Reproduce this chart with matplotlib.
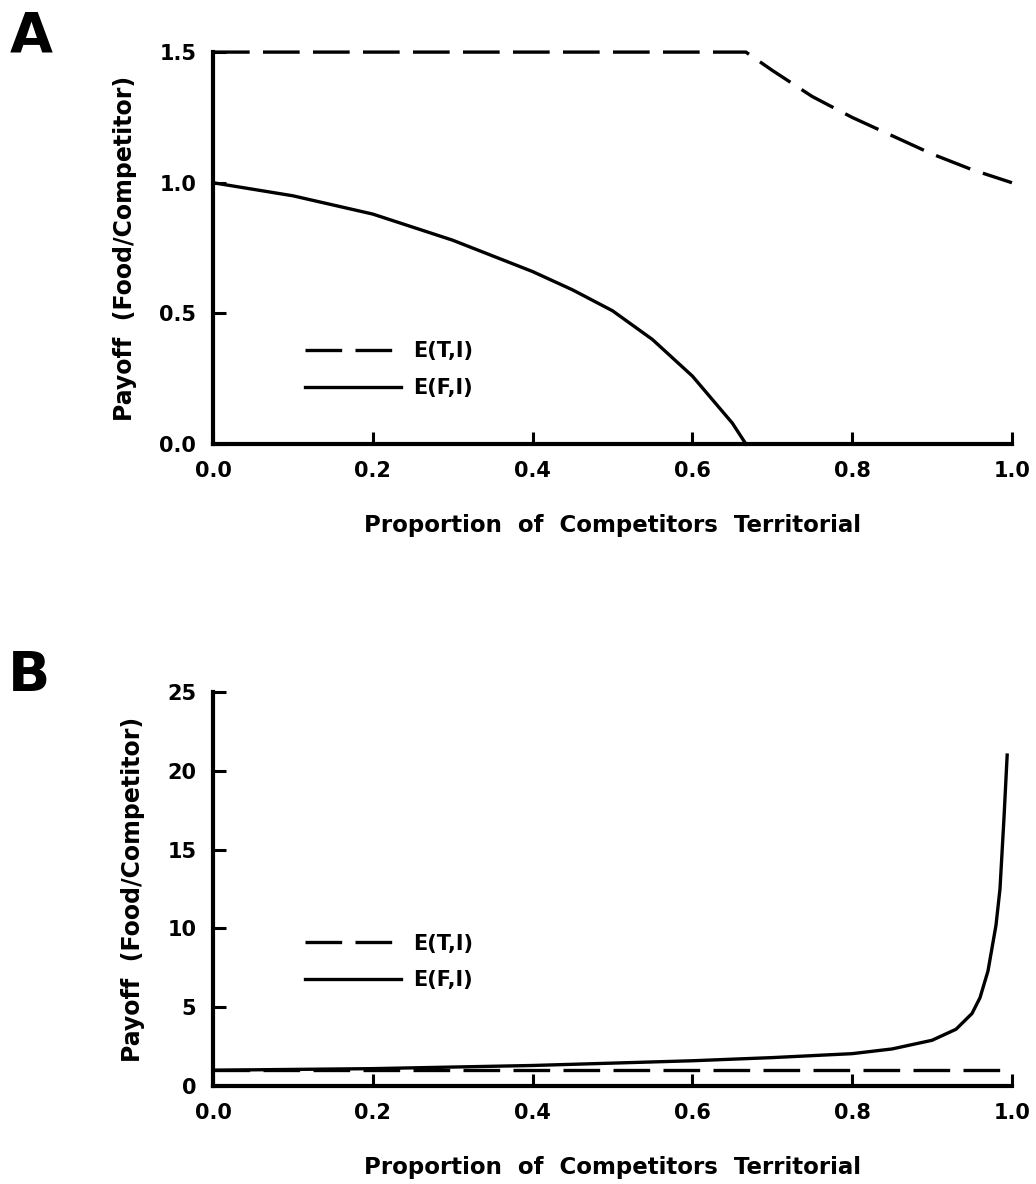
import matplotlib
matplotlib.use("Agg")
import matplotlib.pyplot as plt

# -----------------------------
# Values
# -----------------------------
# Panel A
a_t_x = [0.0, 0.667, 0.7, 0.75, 0.8, 0.85, 0.9, 0.95, 1.0]
a_t_y = [1.5, 1.5, 1.43, 1.33, 1.25, 1.18, 1.11, 1.05, 1.0]
a_f_x = [0.0, 0.1, 0.2, 0.3, 0.4, 0.45, 0.5, 0.55, 0.6, 0.65, 0.667]
a_f_y = [1.0, 0.95, 0.88, 0.78, 0.66, 0.59, 0.51, 0.40, 0.26, 0.08, 0.0]

# Panel B
b_t_x = [0.0, 1.0]
b_t_y = [1.0, 1.0]
b_f_x = [0.0, 0.1, 0.2, 0.3, 0.4, 0.5, 0.6, 0.7, 0.8, 0.85, 0.9,
         0.93, 0.95, 0.96, 0.97, 0.98, 0.985, 0.99, 0.994]
b_f_y = [1.0, 1.05, 1.1, 1.2, 1.3, 1.45, 1.6, 1.8, 2.05, 2.35, 2.9,
         3.6, 4.6, 5.6, 7.3, 10.2, 12.5, 17.0, 21.0]

x_ticks = [0.0, 0.2, 0.4, 0.6, 0.8, 1.0]
a_y_ticks = [0.0, 0.5, 1.0, 1.5]
b_y_ticks = [0, 5, 10, 15, 20, 25]

series_labels = ["E(T,I)", "E(F,I)"]
x_title = "Proportion  of  Competitors  Territorial"
y_title = "Payoff  (Food/Competitor)"

plt.rcParams["font.family"] = ["DejaVu Sans"]
plt.rcParams["font.weight"] = "bold"

fig = plt.figure(figsize=(10.36, 11.84), dpi=100)
ax_a = fig.add_axes([0.2056, 0.625, 0.7712, 0.331])
ax_b = fig.add_axes([0.2056, 0.0828, 0.7712, 0.3327])

dash = (0, (11, 4))


def style_axis(ax, yticks, ylim, leg_y):
    ax.set_xlim(0, 1)
    ax.set_ylim(*ylim)
    ax.set_xticks(x_ticks)
    ax.set_xticklabels(["%.1f" % v for v in x_ticks])
    ax.set_yticks(yticks)
    for s in ["top", "right"]:
        ax.spines[s].set_visible(False)
    for s in ["left", "bottom"]:
        ax.spines[s].set_linewidth(3)
    ax.tick_params(direction="in", length=9, width=2.2, labelsize=15, pad=12)
    for lab in ax.get_xticklabels() + ax.get_yticklabels():
        lab.set_fontweight("bold")
    ax.set_xlabel(x_title, fontsize=16.5, fontweight="bold", labelpad=24)
    ax.set_ylabel(y_title, fontsize=17, fontweight="bold", labelpad=16)
    leg = ax.legend(loc="upper left", bbox_to_anchor=(0.115, leg_y),
                    frameon=False, borderpad=0, borderaxespad=0,
                    handlelength=4.6, handletextpad=0.6, labelspacing=0.8,
                    prop={"size": 15, "weight": "bold"})
    return leg


# Panel A
ax_a.plot(a_t_x, a_t_y, color="black", lw=2.4, linestyle=dash,
          clip_on=False, label=series_labels[0])
ax_a.plot(a_f_x, a_f_y, color="black", lw=2.4, clip_on=False,
          label=series_labels[1])
style_axis(ax_a, a_y_ticks, (0, 1.5), 0.262)
ax_a.set_yticklabels(["%.1f" % v for v in a_y_ticks])

# Panel B
ax_b.plot(b_t_x, b_t_y, color="black", lw=2.4, linestyle=dash,
          clip_on=False, label=series_labels[0])
ax_b.plot(b_f_x, b_f_y, color="black", lw=2.4, clip_on=False,
          label=series_labels[1])
style_axis(ax_b, b_y_ticks, (0, 25), 0.387)

fig.text(0.009, 0.992, "A", fontsize=40, fontweight="heavy", va="top", ha="left")
fig.text(0.008, 0.452, "B", fontsize=40, fontweight="heavy", va="top", ha="left")

fig.savefig("out.png", dpi=100)
